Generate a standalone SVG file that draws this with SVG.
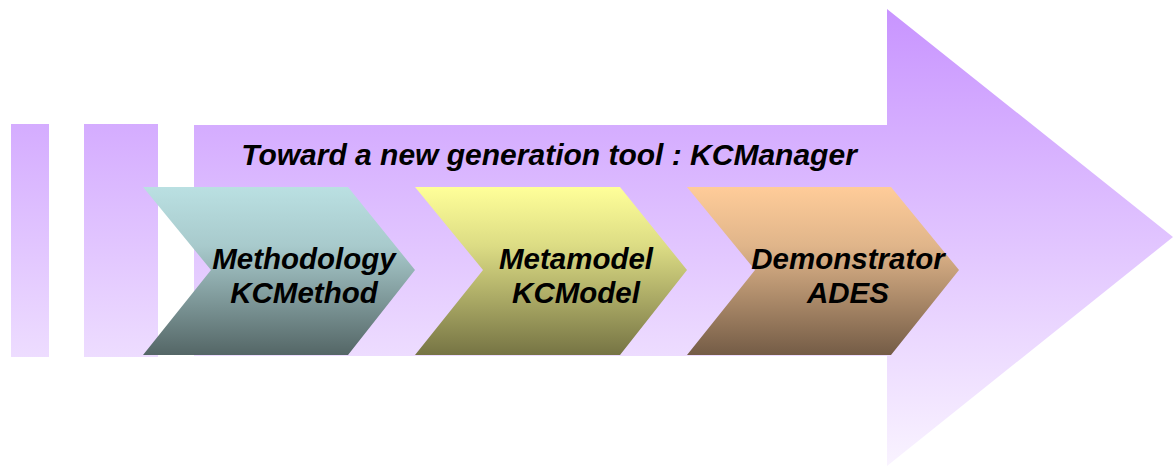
<svg xmlns="http://www.w3.org/2000/svg" width="1173" height="466" viewBox="0 0 1173 466">
<defs>
<linearGradient id="gPurple" gradientUnits="userSpaceOnUse" x1="0" y1="8" x2="0" y2="466">
<stop offset="0" stop-color="#C894FF"/>
<stop offset="1" stop-color="#F9F3FF"/>
</linearGradient>
<linearGradient id="gTeal" x1="0" y1="0" x2="0" y2="1">
<stop offset="0" stop-color="#BAE0E2"/>
<stop offset="0.35" stop-color="#A8CACC"/>
<stop offset="1" stop-color="#546666"/>
</linearGradient>
<linearGradient id="gYellow" x1="0" y1="0" x2="0" y2="1">
<stop offset="0" stop-color="#FFFF99"/>
<stop offset="0.35" stop-color="#DCDC84"/>
<stop offset="1" stop-color="#767444"/>
</linearGradient>
<linearGradient id="gOrange" x1="0" y1="0" x2="0" y2="1">
<stop offset="0" stop-color="#FFCC99"/>
<stop offset="0.35" stop-color="#E0B58A"/>
<stop offset="1" stop-color="#745C46"/>
</linearGradient>
</defs>
<style>
.lbl{font-family:"Liberation Sans",Arial,sans-serif;font-weight:bold;font-style:italic;font-size:29.5px;fill:#000;text-anchor:middle}
.ttl{font-size:30px}
</style>
<g id="background">
<rect x="11" y="124" width="38" height="233" fill="url(#gPurple)"/>
<rect x="84" y="124" width="74" height="233" fill="url(#gPurple)"/>
<polygon points="194,125 887,125 887,9 1173,237 887,466 887,356 194,356" fill="url(#gPurple)"/>
</g>
<g id="title">
<text class="lbl ttl" x="549" y="165">Toward a new generation tool : KCManager</text>
</g>
<g id="node-methodology">
<polygon points="143,187 348,187 415,270 348,355 143,355 211,270" fill="url(#gTeal)"/>
<text class="lbl" x="304" y="269">Methodology</text>
<text class="lbl" x="304" y="303">KCMethod</text>
</g>
<g id="node-metamodel">
<polygon points="415,187 620,187 687,270 620,355 415,355 483,270" fill="url(#gYellow)"/>
<text class="lbl" x="576" y="269">Metamodel</text>
<text class="lbl" x="576" y="303">KCModel</text>
</g>
<g id="node-demonstrator">
<polygon points="687,187 891,187 959,270 891,355 687,355 755,270" fill="url(#gOrange)"/>
<text class="lbl" x="848" y="269">Demonstrator</text>
<text class="lbl" x="848" y="303">ADES</text>
</g>
<g id="connectors"/>
</svg>
